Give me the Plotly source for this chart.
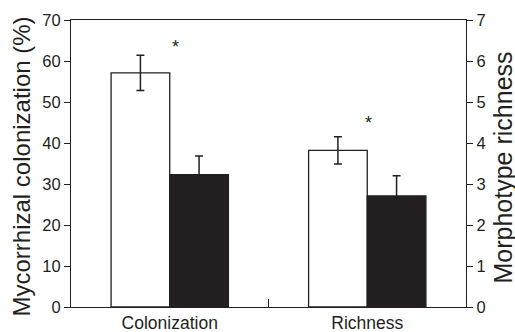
import plotly.graph_objects as go

categories = ["Colonization", "Richness"]
white_colonization = 57.1
white_colonization_err = 4.3
black_colonization = 32.3
black_colonization_err = 4.5
white_richness = 3.82
white_richness_err = 0.33
black_richness = 2.71
black_richness_err = 0.49
left_ticks = [0, 10, 20, 30, 40, 50, 60, 70]
right_ticks = [0, 1, 2, 3, 4, 5, 6, 7]
star_colonization = 63.3
star_richness = 4.5

INK = "#231f20"
FONT = "Liberation Sans, Arial, Helvetica, sans-serif"
BW = 0.297

def bar(x, y, err, color, offset, axis):
    return go.Bar(
        x=[x], y=[y], yaxis=axis, width=BW, offset=offset,
        marker=dict(color=color, line=dict(color=INK, width=1.3)),
        error_y=dict(type="data", array=[err], visible=True, color=INK,
                     thickness=1.5, width=4),
        showlegend=False,
    )

fig = go.Figure()
fig.add_trace(bar(categories[0], white_colonization, white_colonization_err, "white", -BW, "y"))
fig.add_trace(bar(categories[0], black_colonization, black_colonization_err, INK, 0, "y"))
fig.add_trace(bar(categories[1], white_richness, white_richness_err, "white", -BW, "y2"))
fig.add_trace(bar(categories[1], black_richness, black_richness_err, INK, 0, "y2"))

fig.add_annotation(x=categories[0], y=star_colonization, yref="y", text="*", showarrow=False,
                   xshift=6, font=dict(size=18, color=INK, family=FONT))
fig.add_annotation(x=categories[1], y=star_richness, yref="y2", text="*", showarrow=False,
                   xshift=1, font=dict(size=18, color=INK, family=FONT))

fig.add_annotation(text="Mycorrhizal colonization (%)", xref="paper", yref="paper",
                   x=0, y=0.5, xshift=-50, yshift=-3, xanchor="center", yanchor="middle",
                   textangle=-90, showarrow=False,
                   font=dict(size=24, family=FONT, color=INK))
fig.add_annotation(text="Morphotype richness", xref="paper", yref="paper",
                   x=1, y=0.5, xshift=36, yshift=-4, xanchor="center", yanchor="middle",
                   textangle=-90, showarrow=False,
                   font=dict(size=25, family=FONT, color=INK))

fig.update_layout(
    width=515, height=332,
    margin=dict(l=71, r=49, t=20, b=25),
    plot_bgcolor="white", paper_bgcolor="white",
    font=dict(family=FONT, color=INK, size=16),
    xaxis=dict(
        type="category", categoryorder="array", categoryarray=categories,
        range=[-0.5, 1.5], showline=True, linecolor=INK, linewidth=1.2,
        mirror=True, ticks="inside", tickson="boundaries", ticklen=8,
        tickcolor=INK, tickwidth=1.2, showgrid=False, automargin=False,
        tickfont=dict(size=17.5, family=FONT, color=INK),
    ),
    yaxis=dict(
        range=[0, 70], tickvals=left_ticks, showline=True, linecolor=INK,
        linewidth=1.2, ticks="outside", ticklen=6, tickcolor=INK, tickwidth=1.2,
        showgrid=False, zeroline=False, automargin=False,
        tickfont=dict(size=16.5, family=FONT, color=INK),
    ),
    yaxis2=dict(
        range=[0, 7], tickvals=right_ticks, overlaying="y", side="right",
        showline=True, linecolor=INK, linewidth=1.2, ticks="outside", ticklen=6,
        tickcolor=INK, tickwidth=1.2, showgrid=False, zeroline=False,
        automargin=False,
        tickfont=dict(size=16.5, family=FONT, color=INK),
    ),
)

fig.write_html("out.html", config={"displayModeBar": False},
               post_script="document.body.style.margin='0';")
